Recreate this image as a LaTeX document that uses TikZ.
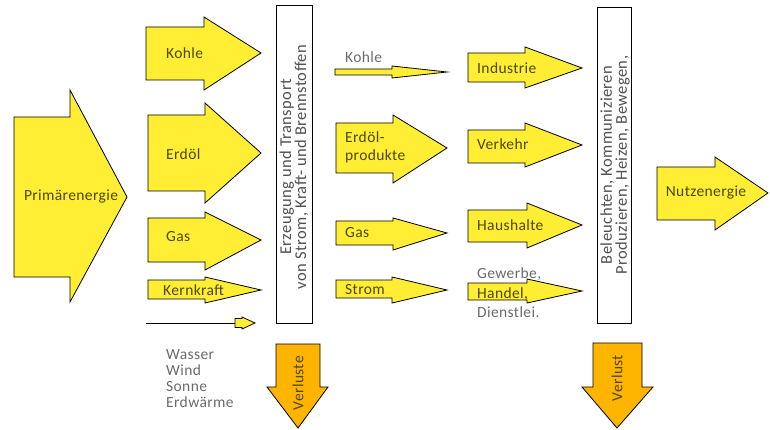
\documentclass[tikz,border=0pt]{standalone}
\usepackage{fontspec}
\setmainfont{Carlito}[LetterSpace=2.5]
\definecolor{ayellow}{HTML}{FFEE33}
\definecolor{aorange}{HTML}{FFB400}
\definecolor{labelink}{HTML}{4D4700}
\definecolor{grayink}{HTML}{6A6A6A}
\definecolor{boxink}{HTML}{505050}
\newcommand{\harrow}[8]{%
  \draw[arrowshape] (#1,#4) -- (#2,#4) -- (#2,#6) -- (#3,#8) -- (#2,#7) -- (#2,#5) -- (#1,#5) -- cycle;}
\newcommand{\varrow}[8]{%
  \draw[arrowshape, fill=aorange] (#4,#1) -- (#4,#2) -- (#6,#2) -- (#8,#3) -- (#7,#2) -- (#5,#2) -- (#5,#1) -- cycle;}
\begin{document}
\begin{tikzpicture}[x=1pt,y=-1pt,
  arrowshape/.style={draw=black, line width=0.8pt, fill=ayellow, line join=miter},
  lbl/.style={font=\fontsize{15.5}{16}\selectfont, text=labelink, inner sep=0pt, anchor=west},
  glbl/.style={font=\fontsize{15.5}{16}\selectfont, text=grayink, inner sep=0pt, anchor=west, align=left},
  boxtext/.style={font=\fontsize{16.5}{15}\selectfont, text=boxink, rotate=90, align=center, inner sep=0pt},
  vbox/.style={draw=black, line width=0.8pt, fill=white}]
\useasboundingbox (0,0) rectangle (770,430);
% column 1
\harrow{14}{70}{127}{117}{277}{90}{302}{197}
\node[lbl, anchor=center] (prim) at (71,197) {Primärenergie};
\harrow{146}{204}{261}{27}{80}{17}{90}{53}
\node[lbl] (kohle1) at (166,53) {Kohle};
\harrow{148}{205}{261}{115}{191}{103}{203}{153}
\node[lbl] (erdoel) at (166,154) {Erdöl};
\harrow{148}{205}{261}{218}{262}{212}{270}{240}
\node[lbl] (gas1) at (166,237) {Gas};
\harrow{148}{205}{261}{280}{299}{277}{303}{290}
\node[lbl] (kern) at (163,290) {Kernkraft};
\coordinate (thinA) at (146,323);
\coordinate (thinB) at (235,323);
\draw[line width=0.8pt] (thinA) -- (thinB);
\draw[arrowshape] (235,318.5) -- (242,318.5) -- (242,317) -- (255,323) -- (242,329) -- (242,327.5) -- (235,327.5) -- cycle;
\node[glbl, anchor=north west, font=\fontsize{15.5}{16}\selectfont] (renew) at (166,349) {Wasser\\Wind\\Sonne\\Erdwärme};
% box 1
\draw[vbox] (276,5) rectangle (312,323);
\node[boxtext] (box1) at (294,167) {Erzeugung und Transport\\von Strom, Kraft- und Brennstoffen};
\varrow{344}{387}{428}{276}{320}{267}{328}{298}
\node[lbl, rotate=90, anchor=center] (verl1) at (298,383) {Verluste};
% column 2
\node[glbl] (kohle2) at (345,57) {Kohle};
\draw[arrowshape] (335,69) -- (392,69) -- (392,66) -- (447,72) -- (392,78) -- (392,75) -- (335,75) -- cycle;
\harrow{336}{393}{447}{123}{173}{115}{183}{148}
\node[lbl, align=left, anchor=west, font=\fontsize{15.5}{18}\selectfont] (erdprod) at (345,147) {Erdöl-\\produkte};
\harrow{336}{393}{447}{221}{245}{218}{250}{233}
\node[lbl] (gas2) at (345,233) {Gas};
\harrow{336}{392}{447}{280}{298}{277}{303}{290}
\node[lbl] (strom) at (345,290) {Strom};
% column 3
\harrow{468}{525}{582}{53}{82}{47}{88}{68}
\node[lbl] (ind) at (477,68) {Industrie};
\harrow{468}{525}{582}{130}{163}{123}{167}{145}
\node[lbl] (verk) at (477,144) {Verkehr};
\harrow{468}{527}{582}{210}{242}{203}{248}{225}
\node[lbl] (haus) at (477,225) {Haushalte};
\harrow{468}{527}{582}{283}{300}{279}{303}{291}
\node[glbl, font=\fontsize{15.5}{19.5}\selectfont] (gew) at (477,293) {Gewerbe,\\\textcolor{labelink}{Handel,}\\Dienstlei.};
% box 2
\draw[vbox] (597,7) rectangle (631,323);
\node[boxtext] (box2) at (615,165) {Beleuchten, Kommunizieren\\Produzieren, Heizen, Bewegen,};
\varrow{343}{387}{428}{593}{642}{582}{653}{617}
\node[lbl, rotate=90, anchor=center] (verl2) at (617,378) {Verlust};
\harrow{657}{715}{768}{167}{220}{157}{230}{193}
\node[lbl, anchor=center] (nutz) at (706,193) {Nutzenergie};
\end{tikzpicture}
\end{document}
